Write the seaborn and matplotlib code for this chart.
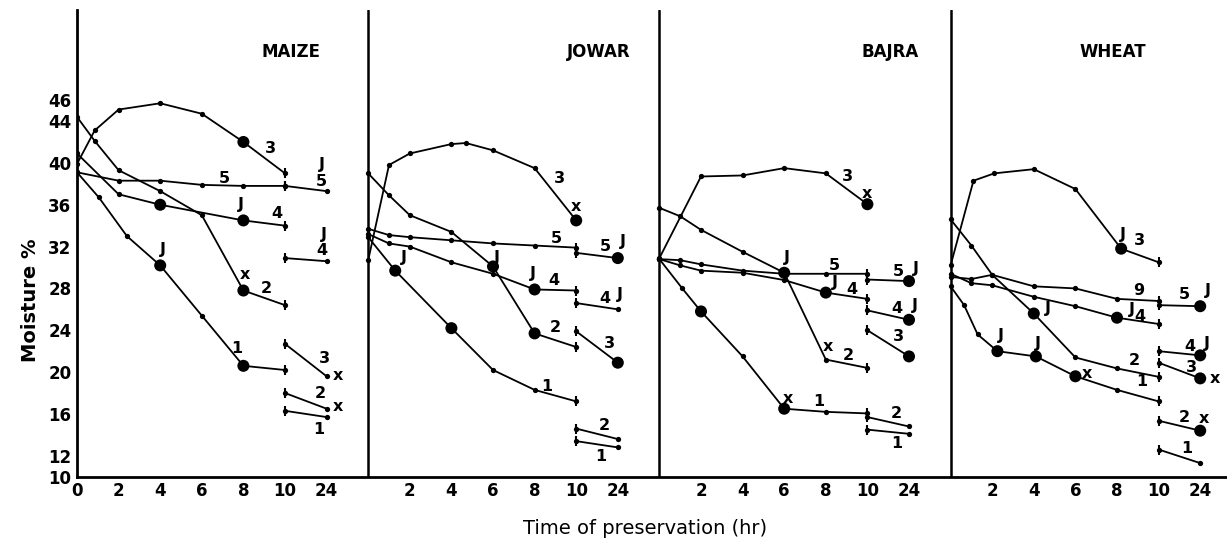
import matplotlib
matplotlib.use("Agg")
import matplotlib.pyplot as plt
import numpy as np
import pandas as pd
import seaborn as sns

# ---------------- data ----------------
crops = ["MAIZE", "JOWAR", "BAJRA", "WHEAT"]
x_tick_hours = [0, 2, 4, 6, 8, 10, 24]
y_ticks = [10, 12, 16, 20, 24, 28, 32, 36, 40, 44, 46]

# MAIZE (hours, moisture %)
maize_1_t = [0, 1.05, 2.4, 4, 6, 8, 10]
maize_1_v = [39.1, 36.7, 33.0, 30.2, 25.4, 20.6, 20.2]
maize_2_t = [0, 0.85, 2, 4, 6, 8, 10]
maize_2_v = [44.4, 42.1, 39.3, 37.3, 35.0, 27.8, 26.4]
maize_3_t = [0, 0.85, 2, 4, 6, 8, 10]
maize_3_v = [39.9, 43.1, 45.1, 45.7, 44.7, 42.0, 39.0]
maize_4_t = [0, 2, 4, 8, 10]
maize_4_v = [40.9, 37.0, 36.0, 34.5, 34.0]
maize_5_t = [0, 2, 4, 6, 8, 10]
maize_5_v = [39.1, 38.3, 38.3, 37.9, 37.8, 37.8]
maize_tail_10 = [16.3, 18.0, 22.7, 30.9, 37.8]
maize_tail_24 = [15.7, 16.5, 19.6, 30.6, 37.3]
maize_big_t = [8, 4, 8, 8, 4, 8]
maize_big_v = [42.0, 36.0, 34.5, 27.8, 30.2, 20.6]

# JOWAR
jowar_1_t = [0, 1.3, 4, 6, 8, 10]
jowar_1_v = [32.9, 29.7, 24.2, 20.2, 18.3, 17.2]
jowar_2_t = [0, 1, 2, 4, 6, 8, 10]
jowar_2_v = [39.0, 36.9, 35.0, 33.4, 30.1, 23.7, 22.4]
jowar_3_t = [0, 1, 2, 4, 4.7, 6, 8, 10]
jowar_3_v = [30.7, 39.8, 40.9, 41.8, 41.9, 41.2, 39.5, 34.5]
jowar_4_t = [0, 1, 2, 4, 6, 8, 10]
jowar_4_v = [33.2, 32.3, 32.0, 30.5, 29.4, 27.9, 27.8]
jowar_5_t = [0, 1, 2, 4, 6, 8, 10]
jowar_5_v = [33.7, 33.1, 32.9, 32.6, 32.3, 32.1, 31.9]
jowar_tail_10 = [13.4, 14.6, 23.9, 26.6, 31.4]
jowar_tail_24 = [12.8, 13.6, 20.9, 26.0, 30.9]
jowar_big_t = [10, 6, 8, 8, 1.3, 4, 24, 24]
jowar_big_v = [34.5, 30.1, 23.7, 27.9, 29.7, 24.2, 30.9, 20.9]

# BAJRA
bajra_1_t = [0, 1.1, 2, 4, 6, 8, 10]
bajra_1_v = [30.8, 28.0, 25.8, 21.5, 16.5, 16.2, 16.05]
bajra_2_t = [0, 1, 2, 4, 6, 8, 10]
bajra_2_v = [35.7, 34.9, 33.6, 31.5, 29.5, 21.2, 20.4]
bajra_3_t = [0, 2, 4, 6, 8, 10]
bajra_3_v = [30.9, 38.7, 38.8, 39.5, 39.0, 36.05]
bajra_4_t = [0, 1, 2, 4, 6, 8, 10]
bajra_4_v = [30.8, 30.2, 29.7, 29.5, 28.8, 27.6, 27.0]
bajra_5_t = [0, 1, 2, 4, 6, 8, 10]
bajra_5_v = [30.8, 30.7, 30.3, 29.7, 29.4, 29.4, 29.4]
bajra_tail_10 = [14.5, 15.7, 24.0, 25.9, 28.85]
bajra_tail_24 = [14.1, 14.8, 21.5, 25.0, 28.7]
bajra_big_t = [10, 6, 8, 2, 6, 24, 24, 24]
bajra_big_v = [36.05, 29.5, 27.6, 25.8, 16.5, 28.7, 25.0, 21.5]

# WHEAT
wheat_1_t = [0, 0.65, 1.3, 2.25, 4.1, 6, 8, 10]
wheat_1_v = [28.2, 26.4, 23.6, 22.0, 21.5, 19.6, 18.3, 17.2]
wheat_2_t = [0, 1, 2, 4, 6, 8, 10]
wheat_2_v = [34.6, 32.1, 29.3, 25.6, 21.4, 20.35, 19.55]
wheat_3_t = [0, 1.1, 2.1, 4, 6, 8.2, 10]
wheat_3_v = [30.2, 38.3, 39.0, 39.4, 37.5, 31.8, 30.5]
wheat_4_t = [0, 1, 2, 4, 6, 8, 10]
wheat_4_v = [29.4, 28.5, 28.3, 27.2, 26.3, 25.2, 24.6]
wheat_5_t = [0, 1, 2, 4, 6, 8, 10]
wheat_5_v = [29.1, 28.9, 29.3, 28.2, 28.0, 27.0, 26.8]
wheat_tail_10 = [12.6, 15.35, 20.9, 22.0, 26.4]
wheat_tail_24 = [11.3, 14.4, 19.4, 21.6, 26.3]
wheat_big_t = [8.2, 4, 8, 2.25, 4.1, 6, 24, 24, 24, 24]
wheat_big_v = [31.8, 25.6, 25.2, 22.0, 21.5, 19.6, 26.3, 21.6, 19.4, 14.4]

# curve annotations (panel position where 24 h sits at 12, moisture %, text)
maize_lbl_x = [9.3, 7.1, 11.75, 11.75, 7.9, 9.6, 11.85, 11.75, 4.15, 8.05, 9.1, 7.7, 11.9, 12.55, 11.7, 12.55, 11.6]
maize_lbl_y = [41.4, 38.5, 39.8, 38.2, 36.0, 35.2, 33.2, 31.6, 31.7, 29.3, 28.0, 22.3, 21.3, 19.7, 18.0, 16.7, 14.5]
maize_lbl_s = ["3", "5", "J", "5", "J", "4", "J", "4", "J", "x", "2", "1", "3", "x", "2", "x", "1"]

jowar_lbl_x = [9.2, 10.0, 9.05, 11.4, 12.25, 6.2, 1.7, 7.9, 8.95, 11.4, 12.1, 9.0, 11.6, 8.6, 11.35, 11.2]
jowar_lbl_y = [38.5, 35.8, 32.8, 32.0, 32.5, 31.0, 31.0, 29.4, 28.8, 27.0, 27.4, 24.3, 22.7, 18.6, 14.9, 11.9]
jowar_lbl_s = ["3", "x", "5", "5", "J", "J", "J", "J", "4", "4", "J", "2", "3", "1", "2", "1"]

bajra_lbl_x = [9.05, 10.0, 6.15, 8.4, 11.5, 12.35, 8.45, 9.25, 11.4, 12.3, 11.5, 8.1, 9.1, 6.2, 7.65, 11.4, 11.4]
bajra_lbl_y = [38.7, 37.1, 31.0, 30.2, 29.6, 29.9, 28.6, 27.9, 26.1, 26.4, 23.4, 22.4, 21.6, 17.5, 17.2, 16.0, 13.2]
bajra_lbl_s = ["3", "x", "J", "5", "5", "J", "J", "4", "4", "J", "3", "x", "2", "x", "1", "2", "1"]

wheat_lbl_x = [8.3, 9.1, 9.05, 11.25, 12.35, 4.7, 8.7, 9.1, 2.4, 4.2, 8.85, 11.5, 12.3, 11.6, 12.7, 6.55, 9.2, 11.25, 12.2, 11.35]
wheat_lbl_y = [33.2, 32.6, 27.8, 27.4, 27.8, 26.1, 26.0, 25.3, 23.5, 22.7, 21.1, 22.4, 22.7, 20.4, 19.4, 19.9, 19.1, 15.7, 15.6, 12.7]
wheat_lbl_s = ["J", "3", "9", "5", "J", "J", "J", "4", "J", "J", "2", "4", "J", "3", "x", "x", "1", "2", "x", "1"]

# ---------------- assemble ----------------
PANEL_W = 14
main = {
    "MAIZE": [(maize_1_t, maize_1_v), (maize_2_t, maize_2_v), (maize_3_t, maize_3_v), (maize_4_t, maize_4_v), (maize_5_t, maize_5_v)],
    "JOWAR": [(jowar_1_t, jowar_1_v), (jowar_2_t, jowar_2_v), (jowar_3_t, jowar_3_v), (jowar_4_t, jowar_4_v), (jowar_5_t, jowar_5_v)],
    "BAJRA": [(bajra_1_t, bajra_1_v), (bajra_2_t, bajra_2_v), (bajra_3_t, bajra_3_v), (bajra_4_t, bajra_4_v), (bajra_5_t, bajra_5_v)],
    "WHEAT": [(wheat_1_t, wheat_1_v), (wheat_2_t, wheat_2_v), (wheat_3_t, wheat_3_v), (wheat_4_t, wheat_4_v), (wheat_5_t, wheat_5_v)],
}
tails = {"MAIZE": (maize_tail_10, maize_tail_24), "JOWAR": (jowar_tail_10, jowar_tail_24),
         "BAJRA": (bajra_tail_10, bajra_tail_24), "WHEAT": (wheat_tail_10, wheat_tail_24)}
bigs = {"MAIZE": (maize_big_t, maize_big_v), "JOWAR": (jowar_big_t, jowar_big_v),
        "BAJRA": (bajra_big_t, bajra_big_v), "WHEAT": (wheat_big_t, wheat_big_v)}
labels = {"MAIZE": (maize_lbl_x, maize_lbl_y, maize_lbl_s), "JOWAR": (jowar_lbl_x, jowar_lbl_y, jowar_lbl_s),
          "BAJRA": (bajra_lbl_x, bajra_lbl_y, bajra_lbl_s), "WHEAT": (wheat_lbl_x, wheat_lbl_y, wheat_lbl_s)}


def pos(t):
    return 12.0 if t == 24 else float(t)


rows, big_rows, tick_rows = [], [], []
uid = 0
for ci, crop in enumerate(crops):
    off = ci * PANEL_W
    for si, (ts, vs) in enumerate(main[crop]):
        for t, v in zip(ts, vs):
            rows.append({"unit": uid, "x": off + pos(t), "v": v})
        tick_rows.append({"x": off + pos(ts[-1]), "v": vs[-1]})
        uid += 1
    t10, t24 = tails[crop]
    for a, b in zip(t10, t24):
        rows.append({"unit": uid, "x": off + pos(10), "v": a})
        rows.append({"unit": uid, "x": off + pos(24), "v": b})
        tick_rows.append({"x": off + pos(10), "v": a})
        uid += 1
    for t, v in zip(*bigs[crop]):
        big_rows.append({"x": off + pos(t), "v": v})

df = pd.DataFrame(rows)
big_df = pd.DataFrame(big_rows)
tick_df = pd.DataFrame(tick_rows)

# ---------------- draw ----------------
sns.set_style("white")
plt.rcParams["font.family"] = ["DejaVu Sans"]
plt.rcParams["text.color"] = "black"
plt.rcParams["axes.labelcolor"] = "black"
plt.rcParams["xtick.color"] = "black"
plt.rcParams["ytick.color"] = "black"

W, H = 1227, 548
fig = plt.figure(figsize=(W / 100, H / 100), dpi=100)
x0, y_bottom, y_top = 77, 476.7, 10
ax = fig.add_axes([x0 / W, 1 - y_bottom / H, (W - x0) / W, (y_bottom - y_top) / H])

sns.lineplot(data=df, x="x", y="v", units="unit", estimator=None, sort=False,
             color="black", lw=1.3, marker="o", markersize=3.8, markeredgewidth=0,
             legend=False, ax=ax)
sns.scatterplot(data=big_df, x="x", y="v", s=75, color="black", edgecolor="none",
                legend=False, ax=ax, zorder=5)
ax.scatter(tick_df["x"], tick_df["v"], marker="|", s=60, color="black", linewidths=1.5, zorder=4)

for ci, crop in enumerate(crops):
    off = ci * PANEL_W
    for lx, ly, s in zip(*labels[crop]):
        ax.text(off + lx, ly, s, ha="center", va="center", fontsize=11.5,
                fontweight="bold", color="black")

title_x = [10.3, 11.1, 11.1, 7.8]
for ci, crop in enumerate(crops):
    ax.text(ci * PANEL_W + title_x[ci], 50.6, crop, ha="center", va="center",
            fontsize=12, fontweight="bold", color="black")

for ci in range(1, 4):
    ax.axvline(ci * PANEL_W, color="black", lw=1.8)

xt_pos, xt_lab = [], []
for ci in range(4):
    for h in x_tick_hours:
        if ci > 0 and h == 0:
            continue
        xt_pos.append(ci * PANEL_W + pos(h))
        xt_lab.append(str(h))
ax.set_xticks(xt_pos)
ax.set_xticklabels(xt_lab, fontsize=12, fontweight="bold", color="black")
ax.set_yticks(y_ticks)
ax.set_yticklabels([str(y) for y in y_ticks], fontsize=12, fontweight="bold", color="black")
ax.tick_params(axis="both", direction="in", length=6, width=1.5, color="black",
               labelcolor="black", pad=4)

ax.set_xlim(0, (W - x0) / 20.8)
ax.set_ylim(10, 10 + (y_bottom - y_top) / 10.46)
for side in ["top", "right"]:
    ax.spines[side].set_visible(False)
for side in ["left", "bottom"]:
    ax.spines[side].set_linewidth(2)
    ax.spines[side].set_color("black")
ax.set_xlabel("")
ax.set_ylabel("")

fig.text(30 / W, 1 - 300 / H, "Moisture %", rotation=90, ha="center", va="center",
         fontsize=14, fontweight="bold", color="black")
fig.text(645 / W, 1 - 528 / H, "Time of preservation (hr)", ha="center", va="center",
         fontsize=14, color="black")

fig.savefig("out.png", dpi=100, facecolor="white")
